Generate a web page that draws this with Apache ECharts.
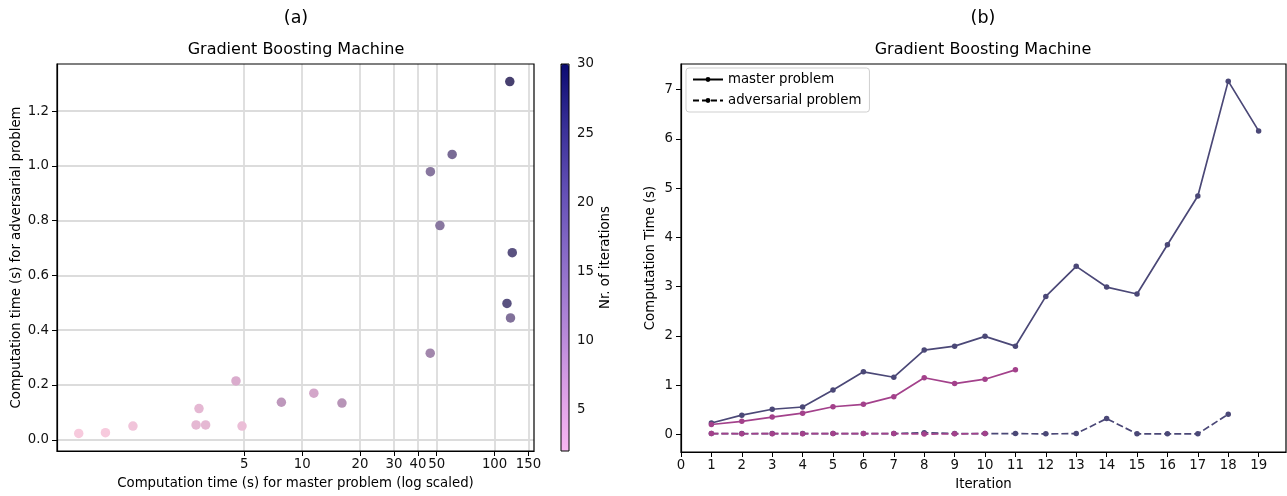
<!DOCTYPE html>
<html>
<head>
<meta charset="utf-8">
<script src="https://cdn.jsdelivr.net/npm/echarts@6/dist/echarts.min.js"></script>
<style>
  html, body { margin: 0; padding: 0; background: #fff; }
  #chart { width: 1287px; height: 496px; }
</style>
</head>
<body>
<div id="chart"></div>
<script>
// ---- (a) one point per run: total master time, total adversarial time, iterations ----
const masterTotals      = [0.69, 0.95, 1.32, 2.81, 2.91, 3.15, 4.53, 4.87, 7.8, 11.5, 16.1, 46.3, 46.4, 52.0, 60.2, 116, 121, 123.6, 120];
const adversarialTotals = [0.023, 0.026, 0.050, 0.054, 0.114, 0.054, 0.215, 0.050, 0.137, 0.170, 0.134, 0.316, 0.979, 0.782, 1.042, 0.498, 0.445, 0.683, 1.308];
const iterationCounts   = [2, 2, 3, 5, 5, 5, 7, 4, 11, 8, 12, 15, 19, 19, 21, 25, 20, 25, 28];
const masterLogTicks    = [5, 10, 20, 30, 40, 50, 100, 150];
const adversarialTicks  = [0, 0.2, 0.4, 0.6, 0.8, 1.0, 1.2];
const colorbarTicks     = [5, 10, 15, 20, 25, 30];

// ---- (b) per-iteration computation time of two runs ----
const longRunMaster      = [0.23, 0.39, 0.51, 0.555, 0.90, 1.27, 1.16, 1.71, 1.79, 1.99, 1.79, 2.80, 3.41, 2.99, 2.85, 3.85, 4.84, 7.17, 6.16];
const longRunAdversarial = [0.015, 0.015, 0.015, 0.015, 0.015, 0.015, 0.015, 0.035, 0.015, 0.015, 0.015, 0.010, 0.015, 0.32, 0.010, 0.010, 0.010, 0.41];
const shortRunMaster      = [0.20, 0.265, 0.35, 0.43, 0.56, 0.61, 0.765, 1.15, 1.03, 1.12, 1.31];
const shortRunAdversarial = [0.015, 0.012, 0.014, 0.013, 0.015, 0.016, 0.015, 0.005, 0.010, 0.015];
const iterationTicks = [0, 1, 2, 3, 4, 5, 6, 7, 8, 9, 10, 11, 12, 13, 14, 15, 16, 17, 18, 19];
const timeTicks      = [0, 1, 2, 3, 4, 5, 6, 7];

const FONT = '"DejaVu Sans", sans-serif';
const LONG_COLOR = '#4b4877';
const SHORT_COLOR = '#a3418b';

const scatterData = masterTotals.map((m, i) => [m, adversarialTotals[i], iterationCounts[i]]);
const byIteration = arr => arr.map((v, i) => [i + 1, v]);

const tickLabel = { color: '#111', fontFamily: FONT, fontSize: 13.3 };
const blackLine = { show: true, onZero: false, lineStyle: { color: '#000', width: 1.2 } };
const outTick = values => ({ show: true, inside: false, length: 5, customValues: values, lineStyle: { color: '#000', width: 1 } });
const axisName = { color: '#000', fontFamily: FONT, fontSize: 13.3 };

const chart = echarts.init(document.getElementById('chart'), null, { renderer: 'canvas' });

chart.setOption({
  animation: false,
  backgroundColor: '#fff',
  textStyle: { fontFamily: FONT },
  graphic: [
    { type: 'text', x: 296, y: 18, style: { text: '(a)', font: '17.5px ' + FONT, fill: '#000', align: 'center', verticalAlign: 'middle', textAlign: 'center', textVerticalAlign: 'middle' } },
    { type: 'text', x: 983, y: 18, style: { text: '(b)', font: '17.5px ' + FONT, fill: '#000', align: 'center', verticalAlign: 'middle', textAlign: 'center', textVerticalAlign: 'middle' } },
    { type: 'text', x: 296, y: 50, style: { text: 'Gradient Boosting Machine', font: '16px ' + FONT, fill: '#000', align: 'center', verticalAlign: 'middle', textAlign: 'center', textVerticalAlign: 'middle' } },
    { type: 'text', x: 983, y: 50, style: { text: 'Gradient Boosting Machine', font: '16px ' + FONT, fill: '#000', align: 'center', verticalAlign: 'middle', textAlign: 'center', textVerticalAlign: 'middle' } }
  ],
  grid: [
    { left: 57, top: 64, width: 477, height: 387, show: true, borderColor: '#000', borderWidth: 1.2, backgroundColor: 'transparent', z: 2 },
    { left: 681, top: 64, width: 605, height: 388, show: true, borderColor: '#000', borderWidth: 1.2, backgroundColor: 'transparent' },
    { left: 561, top: 64, width: 8, height: 387, show: true, borderColor: '#000', borderWidth: 1, backgroundColor: 'transparent', z: 10 }
  ],
  xAxis: [
    {
      gridIndex: 0, type: 'log', logBase: 10, min: 0.532, max: 160.3,
      name: 'Computation time (s) for master problem (log scaled)', nameLocation: 'middle', nameGap: 26, nameTextStyle: axisName,
      axisLine: blackLine, axisTick: outTick(masterLogTicks),
      axisLabel: Object.assign({ margin: 7, customValues: masterLogTicks, formatter: v => String(v) }, tickLabel),
      splitLine: { show: true, lineStyle: { color: '#dcdcdc', width: 1.8 } },
      minorTick: { show: false }, minorSplitLine: { show: false }
    },
    {
      gridIndex: 1, type: 'value', min: 0, max: 19.9,
      name: 'Iteration', nameLocation: 'middle', nameGap: 26, nameTextStyle: axisName,
      axisLine: blackLine, axisTick: outTick(iterationTicks),
      axisLabel: Object.assign({ margin: 7, customValues: iterationTicks }, tickLabel),
      splitLine: { show: false }
    },
    { gridIndex: 2, type: 'value', min: 0, max: 1, show: false }
  ],
  yAxis: [
    {
      gridIndex: 0, type: 'value', min: -0.041, max: 1.372,
      name: 'Computation time (s) for adversarial problem', nameLocation: 'middle', nameGap: 34, nameTextStyle: axisName,
      axisLine: blackLine, axisTick: outTick(adversarialTicks),
      axisLabel: Object.assign({ margin: 8, customValues: adversarialTicks, formatter: v => v.toFixed(1) }, tickLabel),
      splitLine: { show: true, lineStyle: { color: '#dcdcdc', width: 1.8 } }
    },
    {
      gridIndex: 1, type: 'value', min: -0.358, max: 7.518,
      name: 'Computation Time (s)', nameLocation: 'middle', nameGap: 24, nameTextStyle: axisName,
      axisLine: blackLine, axisTick: outTick(timeTicks),
      axisLabel: Object.assign({ margin: 8, customValues: timeTicks }, tickLabel),
      splitLine: { show: false }
    },
    {
      gridIndex: 2, type: 'value', min: 2, max: 30, position: 'right',
      name: 'Nr. of iterations', nameLocation: 'middle', nameGap: 30, nameTextStyle: axisName,
      axisLine: { show: false }, axisTick: outTick(colorbarTicks),
      axisLabel: Object.assign({ margin: 8, customValues: colorbarTicks }, tickLabel),
      splitLine: { show: false }
    }
  ],
  visualMap: [
    {
      // colour bar
      type: 'continuous', min: 2, max: 30, seriesIndex: 1, dimension: 1,
      left: 561, top: 64, itemWidth: 8, itemHeight: 387, padding: 0,
      calculable: false, showLabel: false, text: null, hoverLink: false,
      inRange: { color: ['#f8b6f2', '#d99ee5', '#b084d6', '#8a6cc8', '#6450b6', '#3a3198', '#0b0b72'] }
    },
    {
      // marker colours by number of iterations
      type: 'continuous', show: false, min: 2, max: 30, seriesIndex: 0, dimension: 2,
      inRange: { color: ['#f7cadd', '#d6a8cb', '#ae8eb2', '#8a78a0', '#5e5683', '#3b3464'] }
    }
  ],
  legend: {
    data: ['master problem', 'adversarial problem'],
    orient: 'vertical', left: 686, top: 68,
    itemWidth: 30, itemHeight: 6, itemGap: 8,
    padding: [5, 8, 5, 6],
    backgroundColor: '#fff', borderColor: '#cfcfcf', borderWidth: 1, borderRadius: 3,
    textStyle: { color: '#000', fontFamily: FONT, fontSize: 13.3 },
    selectedMode: false
  },
  series: [
    {
      type: 'scatter', xAxisIndex: 0, yAxisIndex: 0, data: scatterData,
      symbol: 'circle', symbolSize: 9.5, itemStyle: { opacity: 1 }, z: 3
    },
    { type: 'scatter', xAxisIndex: 2, yAxisIndex: 2, data: [], silent: true },
    {
      type: 'line', xAxisIndex: 1, yAxisIndex: 1, data: byIteration(longRunMaster),
      symbol: 'circle', symbolSize: 5.5, color: LONG_COLOR,
      lineStyle: { color: LONG_COLOR, width: 1.7 }, itemStyle: { color: LONG_COLOR }
    },
    {
      type: 'line', xAxisIndex: 1, yAxisIndex: 1, data: byIteration(longRunAdversarial),
      symbol: 'circle', symbolSize: 5.5, color: LONG_COLOR,
      lineStyle: { color: LONG_COLOR, width: 1.7, type: [7, 3] }, itemStyle: { color: LONG_COLOR }
    },
    {
      type: 'line', xAxisIndex: 1, yAxisIndex: 1, data: byIteration(shortRunMaster),
      symbol: 'circle', symbolSize: 5.5, color: SHORT_COLOR,
      lineStyle: { color: SHORT_COLOR, width: 1.7 }, itemStyle: { color: SHORT_COLOR }
    },
    {
      type: 'line', xAxisIndex: 1, yAxisIndex: 1, data: byIteration(shortRunAdversarial),
      symbol: 'circle', symbolSize: 5.5, color: SHORT_COLOR,
      lineStyle: { color: SHORT_COLOR, width: 1.7, type: [7, 3] }, itemStyle: { color: SHORT_COLOR }
    },
    {
      name: 'master problem', type: 'line', xAxisIndex: 1, yAxisIndex: 1, data: [],
      symbol: 'circle', symbolSize: 5, color: '#000',
      lineStyle: { color: '#000', width: 1.7 }, itemStyle: { color: '#000' }
    },
    {
      name: 'adversarial problem', type: 'line', xAxisIndex: 1, yAxisIndex: 1, data: [],
      symbol: 'circle', symbolSize: 5, color: '#000',
      lineStyle: { color: '#000', width: 1.7, type: [6, 3] }, itemStyle: { color: '#000' }
    }
  ]
});
</script>
</body>
</html>
